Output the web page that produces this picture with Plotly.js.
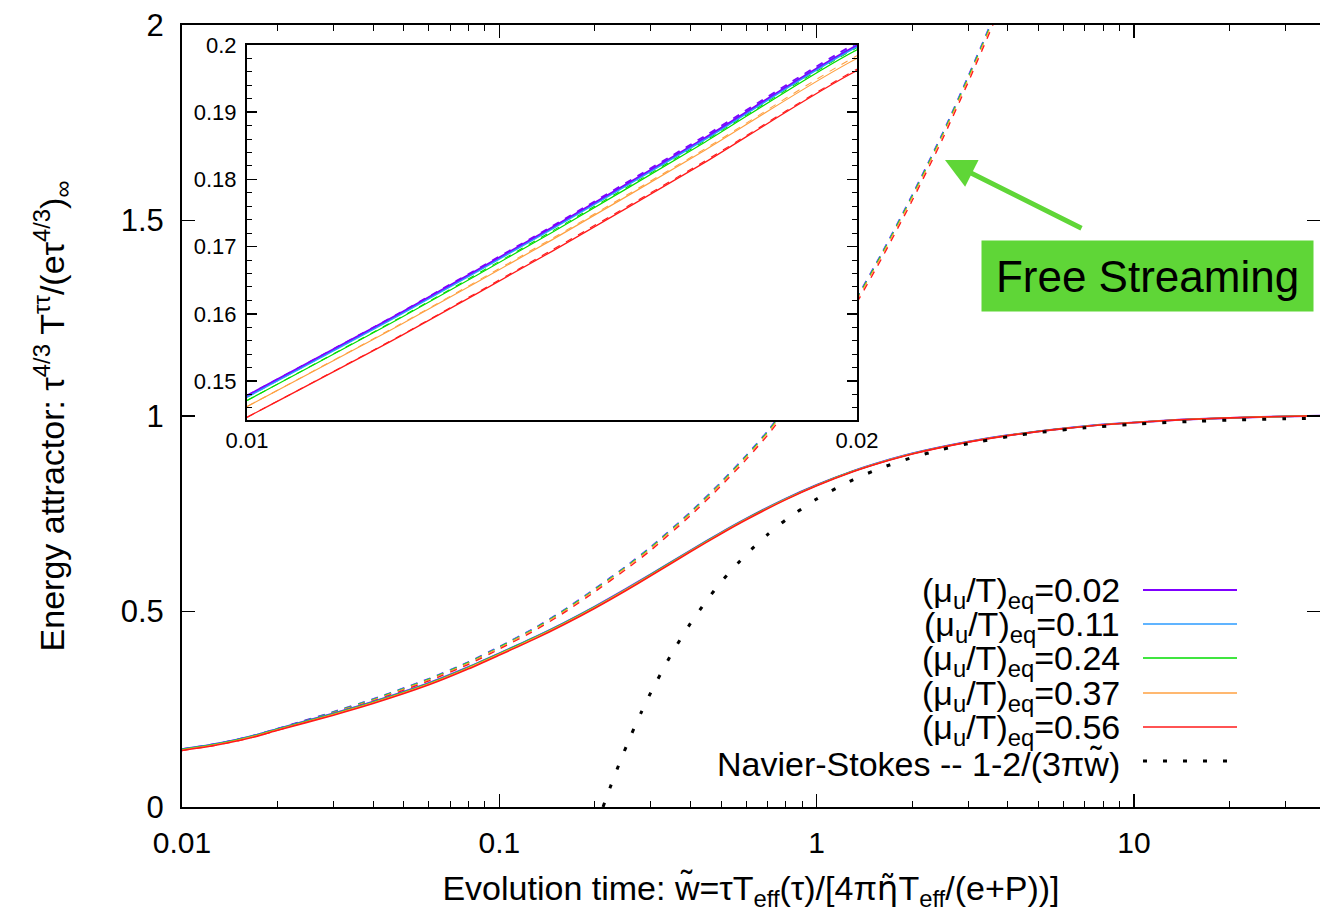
<!DOCTYPE html>
<html>
<head>
<meta charset="utf-8">
<script src="https://cdn.plot.ly/plotly-3.0.1.min.js"></script>
<style>html,body{margin:0;padding:0;background:#fff;}</style>
</head>
<body>
<div id="chart" style="width:1320px;height:914px;"></div>
<script>
// ---------- data ----------
const muLabels = ['0.02', '0.11', '0.24', '0.37', '0.56'];
const seriesColors = ['#7f00ff', '#2b9bff', '#00dd00', '#ffa040', '#ff1a1a'];

// attractor (solid)
const wAttr = [0.01, 0.0125, 0.015, 0.0175, 0.02, 0.03, 0.04, 0.06, 0.08, 0.1, 0.13, 0.16, 0.2, 0.25, 0.3, 0.4, 0.5, 0.6, 0.8, 1, 1.3, 1.6, 2, 3, 4, 6, 8, 12, 16, 25, 40];
const attr002 = [0.1478, 0.1600, 0.1728, 0.1861, 0.1999, 0.2390, 0.2690, 0.3170, 0.3580, 0.3930, 0.4350, 0.4710, 0.5125, 0.5570, 0.5950, 0.6560, 0.7020, 0.7375, 0.7885, 0.8235, 0.8590, 0.8825, 0.9040, 0.9340, 0.9505, 0.9680, 0.9780, 0.9875, 0.9925, 0.9975, 1.0010];
const attr011 = [0.1476, 0.1598, 0.1726, 0.1859, 0.1997, 0.2387, 0.2687, 0.3167, 0.3577, 0.3927, 0.4347, 0.4707, 0.5122, 0.5567, 0.5947, 0.6558, 0.7018, 0.7373, 0.7883, 0.8233, 0.8589, 0.8824, 0.9039, 0.9339, 0.9505, 0.9680, 0.9780, 0.9875, 0.9925, 0.9975, 1.0010];
const attr024 = [0.1471, 0.1593, 0.1721, 0.1855, 0.1993, 0.2383, 0.2682, 0.3162, 0.3572, 0.3922, 0.4342, 0.4702, 0.5117, 0.5563, 0.5943, 0.6554, 0.7014, 0.7370, 0.7880, 0.8231, 0.8587, 0.8822, 0.9038, 0.9338, 0.9504, 0.9679, 0.9780, 0.9875, 0.9925, 0.9975, 1.0010];
const attr037 = [0.1462, 0.1583, 0.1710, 0.1843, 0.1980, 0.2369, 0.2668, 0.3148, 0.3558, 0.3908, 0.4329, 0.4689, 0.5105, 0.5551, 0.5932, 0.6544, 0.7005, 0.7361, 0.7873, 0.8225, 0.8582, 0.8818, 0.9034, 0.9336, 0.9502, 0.9678, 0.9779, 0.9874, 0.9925, 0.9975, 1.0010];
const attr056 = [0.1446, 0.1566, 0.1693, 0.1825, 0.1962, 0.2348, 0.2645, 0.3124, 0.3534, 0.3885, 0.4306, 0.4667, 0.5084, 0.5531, 0.5913, 0.6527, 0.6990, 0.7347, 0.7861, 0.8215, 0.8574, 0.8811, 0.9029, 0.9332, 0.9499, 0.9676, 0.9777, 0.9873, 0.9924, 0.9975, 1.0010];

// free streaming (dashed)
const wFS = [0.01, 0.0125, 0.015, 0.0175, 0.02, 0.03, 0.04, 0.06, 0.08, 0.1, 0.13, 0.16, 0.2, 0.25, 0.3, 0.4, 0.5, 0.6, 0.7, 0.8, 1, 1.3, 1.6, 2, 2.5, 3, 3.6, 4];
const fs002 = [0.1478, 0.1601, 0.1730, 0.1864, 0.2003, 0.2434, 0.2760, 0.3280, 0.3710, 0.4100, 0.4590, 0.5040, 0.5580, 0.6150, 0.6650, 0.7540, 0.8310, 0.8990, 0.9610, 1.0230, 1.1380, 1.2850, 1.4150, 1.5650, 1.7250, 1.8680, 2.0180, 2.1100];
const fs011 = [0.1476, 0.1599, 0.1728, 0.1862, 0.2001, 0.2431, 0.2757, 0.3277, 0.3706, 0.4096, 0.4586, 0.5036, 0.5575, 0.6145, 0.6645, 0.7534, 0.8304, 0.8984, 0.9604, 1.0223, 1.1373, 1.2843, 1.4142, 1.5642, 1.7242, 1.8672, 2.0172, 2.1092];
const fs024 = [0.1471, 0.1594, 0.1723, 0.1857, 0.1996, 0.2426, 0.2751, 0.3270, 0.3699, 0.4088, 0.4577, 0.5026, 0.5565, 0.6134, 0.6633, 0.7522, 0.8291, 0.8970, 0.9589, 1.0208, 1.1357, 1.2825, 1.4124, 1.5622, 1.7221, 1.8650, 2.0149, 2.1068];
const fs037 = [0.1462, 0.1584, 0.1712, 0.1845, 0.1984, 0.2413, 0.2737, 0.3255, 0.3683, 0.4072, 0.4560, 0.5008, 0.5546, 0.6114, 0.6612, 0.7500, 0.8267, 0.8945, 0.9563, 1.0180, 1.1328, 1.2794, 1.4091, 1.5587, 1.7185, 1.8612, 2.0110, 2.1028];
const fs056 = [0.1446, 0.1567, 0.1695, 0.1827, 0.1964, 0.2389, 0.2710, 0.3225, 0.3650, 0.4038, 0.4524, 0.4970, 0.5505, 0.6070, 0.6565, 0.7450, 0.8215, 0.8890, 0.9505, 1.0120, 1.1265, 1.2725, 1.4020, 1.5510, 1.7105, 1.8530, 2.0025, 2.0940];

// Navier-Stokes 1-2/(3 pi w)
const wNS = [0.2122, 0.22, 0.24, 0.26, 0.28, 0.3, 0.35, 0.4, 0.45, 0.5, 0.6, 0.7, 0.8, 1, 1.3, 1.6, 2, 2.5, 3, 4, 5, 7, 10, 15, 20, 30, 40];
const eNS = [0.0, 0.0354, 0.1158, 0.1838, 0.2421, 0.2926, 0.3937, 0.4695, 0.5284, 0.5756, 0.6463, 0.6968, 0.7347, 0.7878, 0.8368, 0.8674, 0.8939, 0.9151, 0.9293, 0.9469, 0.9576, 0.9697, 0.9788, 0.9859, 0.9894, 0.9929, 0.9947];

// ticks
const mainXTicks = [0.01, 0.1, 1, 10];
const mainXTickText = ['0.01', '0.1', '1', '10'];
const mainXMinor = [0.02,0.03,0.04,0.05,0.06,0.07,0.08,0.09,0.2,0.3,0.4,0.5,0.6,0.7,0.8,0.9,2,3,4,5,6,7,8,9,20,30];
const mainYTicks = [0, 0.5, 1, 1.5, 2];
const mainYTickText = ['0', '0.5', '1', '1.5', '2'];
const insetXTicks = [0.01, 0.02];
const insetXTickText = ['0.01', '0.02'];
const insetYTicks = [0.15, 0.16, 0.17, 0.18, 0.19, 0.2];
const insetYTickText = ['0.15', '0.16', '0.17', '0.18', '0.19', '0.2'];

// ---------- traces ----------
const attrSeries = [attr002, attr011, attr024, attr037, attr056];
const fsSeries = [fs002, fs011, fs024, fs037, fs056];
const mainWidths = [2, 1.5, 1.4, 1.4, 1.6];
const insetWidths = [2.4, 1.5, 1.2, 1.2, 1.3];
const traces = [];

['x', 'x2'].forEach(function(xa, k) {
  const ya = k === 0 ? 'y' : 'y2';
  const widths = k === 0 ? mainWidths : insetWidths;
  fsSeries.forEach(function(s, i) {
    traces.push({x: wFS, y: s, xaxis: xa, yaxis: ya, mode: 'lines', type: 'scatter',
      line: {color: seriesColors[i], width: widths[i] * 0.85, dash: '7px,7px', shape: 'spline', smoothing: 0.6},
      hoverinfo: 'skip'});
  });
  attrSeries.forEach(function(s, i) {
    traces.push({x: wAttr, y: s, xaxis: xa, yaxis: ya, mode: 'lines', type: 'scatter',
      line: {color: seriesColors[i], width: widths[i], shape: 'spline', smoothing: 0.6},
      hoverinfo: 'skip'});
  });
});
traces.push({x: wNS, y: eNS, xaxis: 'x', yaxis: 'y', mode: 'lines', type: 'scatter',
  line: {color: '#000', width: 3, dash: '4px,16px', shape: 'spline', smoothing: 0.6}, hoverinfo: 'skip'});

// ---------- layout ----------
const FONT = 'Liberation Sans, Arial, Helvetica, sans-serif';
const L = 182, R = 1320, T = 25, B = 807;
function px2paperX(p) { return (p - L) / (R - L); }
function px2paperY(p) { return (B - p) / (B - T); }

const legendRowsY = [590, 624, 658, 693, 727];
const annotations = [];
const shapes = [];
muLabels.forEach(function(m, i) {
  annotations.push({xref: 'paper', yref: 'paper', x: px2paperX(1122), y: px2paperY(legendRowsY[i] + 2),
    xanchor: 'right', yanchor: 'middle', showarrow: false,
    text: '(\u03bc<sub>u</sub>/T)<sub>eq</sub>=' + m, font: {family: FONT, size: 34, color: '#000'}});
  shapes.push({type: 'line', xref: 'paper', yref: 'paper', x0: px2paperX(1143), x1: px2paperX(1237),
    y0: px2paperY(legendRowsY[i]), y1: px2paperY(legendRowsY[i]), line: {color: seriesColors[i], width: i === 0 ? 2 : 1.3}});
});
annotations.push({xref: 'paper', yref: 'paper', x: px2paperX(1122), y: px2paperY(764),
  xanchor: 'right', yanchor: 'middle', showarrow: false,
  text: 'Navier-Stokes -- 1-2/(3\u03c0w\u0303)', font: {family: FONT, size: 34, color: '#000'}});
shapes.push({type: 'line', xref: 'paper', yref: 'paper', x0: px2paperX(1143), x1: px2paperX(1232),
  y0: px2paperY(761), y1: px2paperY(761), line: {color: '#000', width: 3, dash: '4px,16px'}});

// Free streaming label + arrow
annotations.push({xref: 'paper', yref: 'paper', x: px2paperX(1147.5), y: px2paperY(276),
  xanchor: 'center', yanchor: 'middle', showarrow: false, text: 'Free Streaming',
  font: {family: FONT, size: 44, color: '#000'}, bgcolor: '#5fd637', width: 331, height: 70, borderpad: 0});
annotations.push({xref: 'paper', yref: 'paper', x: px2paperX(945), y: px2paperY(160), text: '',
  showarrow: true, ax: 138, ay: 69, arrowcolor: '#5fd637', arrowwidth: 5, arrowhead: 2, arrowsize: 1.2, standoff: 0});

const layout = {
  width: 1320, height: 914,
  margin: {l: L, r: 1320 - R, t: T, b: 914 - B},
  paper_bgcolor: '#fff', plot_bgcolor: '#fff',
  showlegend: false,
  font: {family: FONT, color: '#000'},
  xaxis: {
    type: 'log', range: [-2, 1.586], domain: [0, 1], anchor: 'y',
    tickmode: 'array', tickvals: mainXTicks, ticktext: mainXTickText,
    ticks: 'inside', ticklen: 13, tickwidth: 1.5, tickcolor: '#000',
    minor: {tickmode: 'array', tickvals: mainXMinor, ticks: 'inside', ticklen: 6, tickwidth: 1, tickcolor: '#000', showgrid: false},
    showline: true, linewidth: 2, linecolor: '#000', mirror: 'ticks',
    showgrid: false, zeroline: false, automargin: false,
    tickfont: {family: FONT, size: 30, color: '#000'}, ticklabelstandoff: 8,
    title: {text: 'Evolution time: w\u0303=\u03c4T<sub>eff</sub>(\u03c4)/[4\u03c0<span style="font-family:DejaVu Sans">\u03b7\u0303</span>T<sub>eff</sub>/(e+P))]',
      font: {family: FONT, size: 34, color: '#000'}, standoff: 18}
  },
  yaxis: {
    range: [0, 2], domain: [0, 1], anchor: 'x',
    tickmode: 'array', tickvals: mainYTicks, ticktext: mainYTickText,
    ticks: 'inside', ticklen: 13, tickwidth: 1.5, tickcolor: '#000',
    showline: true, linewidth: 2, linecolor: '#000', mirror: 'ticks',
    showgrid: false, zeroline: false, automargin: false,
    tickfont: {family: FONT, size: 31, color: '#000'}, ticklabelstandoff: 10,
    title: {text: 'Energy attractor: \u03c4<sup>4/3</sup> T<sup>\u03c4\u03c4</sup>/(e\u03c4<sup>4/3</sup>)<sub>\u221e</sub>',
      font: {family: FONT, size: 34, color: '#000'}, standoff: 46}
  },
  xaxis2: {
    range: [0.01, 0.02], domain: [px2paperX(247), px2paperX(857)], anchor: 'y2',
    tickmode: 'array', tickvals: insetXTicks, ticktext: insetXTickText,
    ticks: '', showline: true, linewidth: 2, linecolor: '#000', mirror: true,
    showgrid: false, zeroline: false, automargin: false,
    tickfont: {family: FONT, size: 22, color: '#000'}, ticklabelstandoff: 0
  },
  yaxis2: {
    range: [0.1442, 0.2], domain: [px2paperY(420), px2paperY(45)], anchor: 'x2',
    tickmode: 'array', tickvals: insetYTicks, ticktext: insetYTickText,
    ticks: 'inside', ticklen: 10, tickwidth: 1.5, tickcolor: '#000',
    minor: {dtick: 0.002, tick0: 0, ticks: 'inside', ticklen: 5, tickwidth: 1, tickcolor: '#000', showgrid: false},
    showline: true, linewidth: 2, linecolor: '#000', mirror: 'ticks',
    showgrid: false, zeroline: false, automargin: false,
    tickfont: {family: FONT, size: 22, color: '#000'}, ticklabelstandoff: 4
  },
  annotations: annotations,
  shapes: shapes
};

Plotly.newPlot('chart', traces, layout, {staticPlot: true, displayModeBar: false});
</script>
</body>
</html>
